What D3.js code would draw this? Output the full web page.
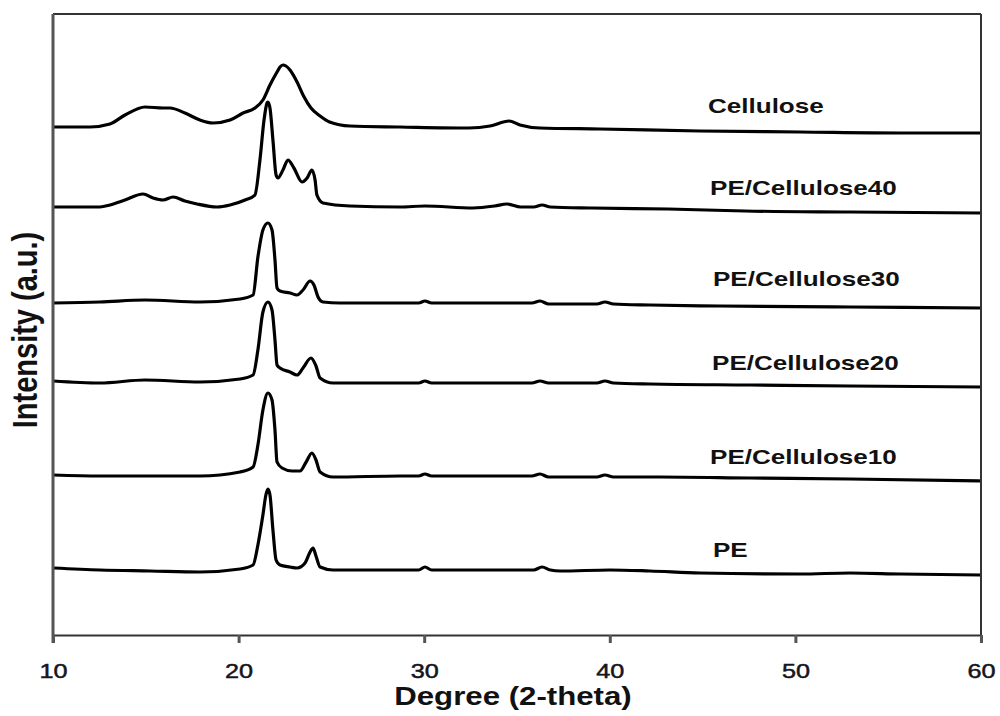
<!DOCTYPE html>
<html lang="en">
<head>
  <meta charset="UTF-8">
  <title>XRD patterns</title>
  <style>
    body { margin: 0; background: #fff; }
    text { font-family: "Liberation Sans", Arial, sans-serif; }
  </style>
</head>
<body>
  <svg id="xrd"></svg>
  <script src="https://cdn.jsdelivr.net/npm/d3@7"></script>
  <script>
    // series names, top to bottom
    var names = ['Cellulose', 'PE/Cellulose40', 'PE/Cellulose30', 'PE/Cellulose20', 'PE/Cellulose10', 'PE'];
    var xTicks = [10, 20, 30, 40, 50, 60];

    // 2-theta (deg) and stacked intensity (a.u.)
    var celluloseX = [10, 11.99, 13.07, 13.88, 14.96, 15.93, 16.3, 17.11, 17.92, 18.62, 19.54, 20.24, 20.88, 21.31, 21.69, 22.07, 22.23, 22.39, 22.55, 22.77, 23.15, 23.5, 23.9, 24.39, 24.9, 26, 28.7, 32.41, 33.55, 34.57, 35.16, 36.24, 39.47, 44.86, 50.25, 55.64, 60];
    var celluloseY = [508, 508, 511, 520, 528, 527, 527, 522, 515, 512, 515, 522, 527, 535, 550, 563, 568, 570, 569, 565, 553, 539, 527, 519, 513, 509, 508, 507, 509, 514, 510, 507, 506, 504, 503, 502, 502];

    var pc40X = [10, 12.53, 13.07, 13.88, 14.85, 15.39, 15.93, 16.47, 17.11, 17.76, 18.84, 19.54, 20.35, 20.88, 21.15, 21.37, 21.53, 21.58, 21.69, 21.85, 22.02, 22.12, 22.39, 22.66, 22.98, 23.42, 23.69, 23.95, 24.12, 24.22, 24.55, 26, 28.7, 30.04, 32.63, 33.8, 34.46, 35.2, 35.9, 36.35, 36.8, 39.04, 43.14, 47.28, 52.94, 60];
    var pc40Y = [428, 428, 430, 435, 441, 437, 435, 438, 434, 431, 428, 430, 435, 440, 475, 515, 532, 533, 527, 495, 460, 457, 465, 475, 467, 453, 457, 465, 455, 440, 432, 429, 428, 429, 427, 429, 431, 428, 428, 430, 428, 427, 426, 424, 423, 422];

    var pc30X = [10, 12.53, 14.96, 17.92, 20.08, 20.78, 21.04, 21.31, 21.58, 21.8, 21.96, 22.07, 22.23, 22.77, 23.15, 23.47, 23.85, 24.06, 24.28, 24.55, 25.46, 28.7, 29.7, 30.04, 30.4, 35.8, 36.24, 36.7, 39.3, 39.74, 40.2, 42.16, 45.93, 52.94, 60];
    var pc30Y = [332, 333, 335, 333, 336, 340, 378, 405, 412, 405, 375, 347, 344, 342, 340, 345, 354, 350, 338, 333, 332, 332, 332, 334, 332, 332, 334, 331, 331, 333, 331, 330, 329, 328, 327];

    var pc20X = [10, 12.53, 14.96, 17.92, 20.08, 20.78, 21.04, 21.31, 21.58, 21.8, 21.96, 22.07, 22.23, 22.77, 23.15, 23.47, 23.9, 24.17, 24.39, 25.09, 28.7, 29.7, 30.04, 30.4, 35.8, 36.24, 36.7, 39.3, 39.74, 40.2, 42.16, 47.55, 52.94, 60];
    var pc20Y = [254, 252, 255, 253, 256, 260, 285, 323, 333, 325, 295, 270, 267, 263, 260, 267, 277, 269, 257, 252, 252, 252, 254, 252, 252, 254, 252, 252, 254, 252, 251, 250, 249, 248];

    var pc10X = [10, 12.53, 17.92, 20.08, 20.78, 21.04, 21.31, 21.58, 21.8, 21.96, 22.07, 22.34, 22.88, 23.31, 23.64, 23.95, 24.17, 24.39, 25.09, 28.7, 29.7, 30.04, 30.4, 35.8, 36.24, 36.7, 39.3, 39.74, 40.2, 42.7, 47.55, 52.94, 60];
    var pc10Y = [160, 159, 159, 163, 168, 190, 225, 242, 235, 205, 173, 167, 164, 164, 173, 182, 175, 163, 158, 159, 159, 161, 159, 159, 161, 158, 158, 160, 158, 158, 157, 156, 154];

    var peX = [10, 12.53, 15.23, 17.92, 20.08, 20.78, 21.04, 21.31, 21.47, 21.58, 21.69, 21.85, 22.02, 22.23, 22.77, 23.15, 23.58, 23.85, 24.01, 24.17, 24.39, 25.09, 28.7, 29.7, 30.04, 30.4, 35.9, 36.35, 36.8, 37.32, 40.01, 42.16, 44.86, 50.25, 52.94, 55.64, 60];
    var peY = [67, 65, 64, 63, 66, 70, 90, 120, 140, 146, 140, 105, 75, 70, 68, 67, 72, 83, 87, 79, 68, 65, 65, 65, 68, 65, 65, 68, 65, 64, 65, 64, 62, 61, 62, 61, 60];

    // label anchor (deg, a.u.) for each series name
    var labelX = [45.29, 45.4, 45.56, 45.51, 45.4, 45.56];
    var labelY = [522, 440, 349, 265, 171, 78];

    var seriesX = [celluloseX, pc40X, pc30X, pc20X, pc10X, peX];
    var seriesY = [celluloseY, pc40Y, pc30Y, pc20Y, pc10Y, peY];

    var W = 1000, H = 716;
    var mLeft = 53, mRight = 981, mTop = 14, mBottom = 635;
    var stretch = 1.2; // glyphs in the figure are wider than tall

    var svg = d3.select('#xrd').attr('width', W).attr('height', H);

    var x = d3.scaleLinear().domain([10, 60]).range([mLeft, mRight]);
    var y = d3.scaleLinear().domain([0, mBottom - mTop]).range([mBottom, mTop]);

    var line = d3.line()
      .x(function (d) { return x(d[0]); })
      .y(function (d) { return y(d[1]); })
      .curve(d3.curveMonotoneX);

    // curves
    svg.append('g').selectAll('path')
      .data(names)
      .enter()
      .append('path')
      .attr('d', function (d, i) { return line(d3.zip(seriesX[i], seriesY[i])); })
      .attr('fill', 'none')
      .attr('stroke', '#000')
      .attr('stroke-width', 3.2)
      .attr('stroke-linejoin', 'round');

    // frame
    svg.append('line').attr('x1', mLeft).attr('x2', mRight).attr('y1', mTop).attr('y2', mTop)
      .attr('stroke', '#333').attr('stroke-width', 2);
    svg.append('line').attr('x1', mRight).attr('x2', mRight).attr('y1', mTop).attr('y2', mBottom)
      .attr('stroke', '#333').attr('stroke-width', 2);
    svg.append('line').attr('x1', mLeft).attr('x2', mLeft).attr('y1', mTop).attr('y2', mBottom + 8)
      .attr('stroke', '#555').attr('stroke-width', 3);

    // x axis
    var xAxis = svg.append('g')
      .attr('transform', 'translate(0,' + mBottom + ')')
      .call(d3.axisBottom(x).tickValues(xTicks).tickSize(8).tickPadding(20).tickSizeOuter(0));
    xAxis.select('.domain').attr('stroke', '#333').attr('stroke-width', 2);
    xAxis.selectAll('.tick line').attr('stroke', '#555').attr('stroke-width', 3);
    xAxis.selectAll('.tick text')
      .attr('fill', '#15151c')
      .attr('stroke', '#15151c')
      .attr('stroke-width', 0.5)
      .style('font-size', '21px')
      .style('font-family', '"Liberation Sans", Arial, sans-serif')
      .each(function () {
        var t = d3.select(this);
        t.attr('textLength', this.getComputedTextLength() * stretch).attr('lengthAdjust', 'spacingAndGlyphs');
      });

    // series labels
    svg.append('g').selectAll('text')
      .data(names)
      .enter()
      .append('text')
      .attr('x', function (d, i) { return x(labelX[i]); })
      .attr('y', function (d, i) { return y(labelY[i]); })
      .attr('fill', '#111')
      .style('font-size', '21px')
      .style('font-weight', 'bold')
      .text(function (d) { return d; })
      .each(function () {
        d3.select(this).attr('textLength', this.getComputedTextLength() * 1.24).attr('lengthAdjust', 'spacingAndGlyphs');
      });

    // axis titles
    var xt = svg.append('text')
      .attr('x', (mLeft + mRight) / 2 - 4)
      .attr('y', 705)
      .attr('text-anchor', 'middle')
      .attr('fill', '#111')
      .style('font-size', '26px')
      .style('font-weight', 'bold')
      .text('Degree (2-theta)');
    xt.attr('textLength', xt.node().getComputedTextLength() * stretch).attr('lengthAdjust', 'spacingAndGlyphs');

    svg.append('text')
      .attr('transform', 'translate(37,330) scale(' + stretch + ',1) rotate(-90)')
      .attr('text-anchor', 'middle')
      .attr('fill', '#111')
      .style('font-size', '29px')
      .style('font-weight', 'bold')
      .text('Intensity (a.u.)');
  </script>
</body>
</html>
